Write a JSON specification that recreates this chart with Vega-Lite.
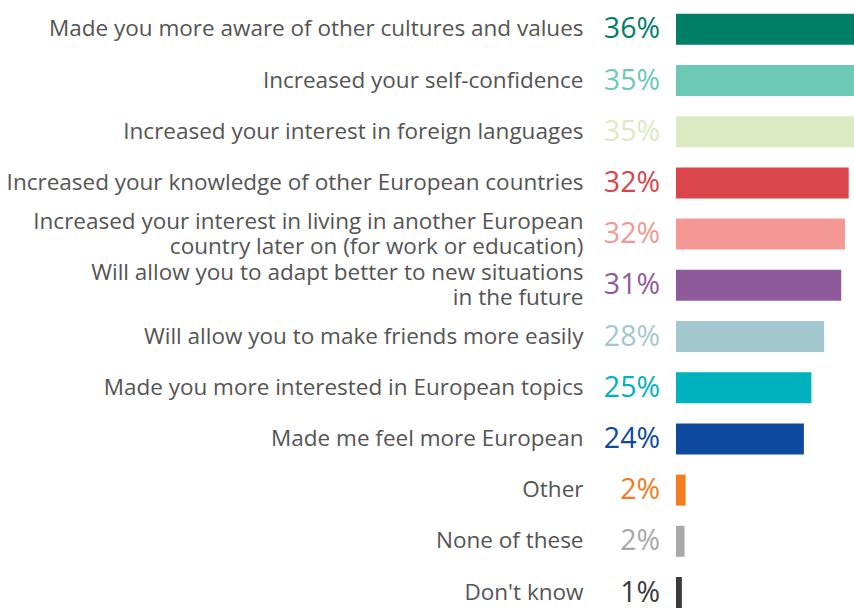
{
  "$schema": "https://vega.github.io/schema/vega-lite/v6.json",
  "width": 178,
  "height": 608,
  "autosize": {"type": "none"},
  "padding": {"left": 676, "top": 0, "right": 0, "bottom": 0},
  "background": "white",
  "config": {"view": {"stroke": null}, "font": "Open Sans"},
  "data": {
    "values": [
      {"label": "Made you more aware of other cultures and values", "value": 36, "pct": "36%"},
      {"label": "Increased your self-confidence", "value": 35, "pct": "35%"},
      {"label": "Increased your interest in foreign languages", "value": 35, "pct": "35%"},
      {"label": "Increased your knowledge of other European countries", "value": 32.4, "pct": "32%"},
      {"label": "Increased your interest in living in another European|country later on (for work or education)", "value": 31.7, "pct": "32%"},
      {"label": "Will allow you to adapt better to new situations|in the future", "value": 31, "pct": "31%"},
      {"label": "Will allow you to make friends more easily", "value": 27.8, "pct": "28%"},
      {"label": "Made you more interested in European topics", "value": 25.4, "pct": "25%"},
      {"label": "Made me feel more European", "value": 24, "pct": "24%"},
      {"label": "Other", "value": 1.8, "pct": "2%"},
      {"label": "None of these", "value": 1.6, "pct": "2%"},
      {"label": "Don't know", "value": 1.1, "pct": "1%"}
    ]
  },
  "encoding": {
    "y": {
      "field": "label",
      "type": "nominal",
      "sort": null,
      "scale": {"paddingInner": 0.395, "paddingOuter": 0.135, "align": 1},
      "axis": {
        "title": null,
        "domain": false,
        "ticks": false,
        "labelPadding": 93,
        "labelFontSize": 22.5,
        "labelColor": "#545454",
        "labelExpr": "split(datum.label, '|')",
        "labelLineHeight": 25,
        "labelLimit": 800,
        "labelAlign": "right",
        "labelBaseline": "middle",
        "labelOffset": {"condition": {"test": "indexof(datum.value, '|') >= 0", "value": -12.5}, "value": 0}
      }
    },
    "color": {
      "field": "label",
      "type": "nominal",
      "legend": null,
      "scale": {
        "domain": [
          "Made you more aware of other cultures and values",
          "Increased your self-confidence",
          "Increased your interest in foreign languages",
          "Increased your knowledge of other European countries",
          "Increased your interest in living in another European|country later on (for work or education)",
          "Will allow you to adapt better to new situations|in the future",
          "Will allow you to make friends more easily",
          "Made you more interested in European topics",
          "Made me feel more European",
          "Other",
          "None of these",
          "Don't know"
        ],
        "range": ["#007E66", "#6CC9B5", "#DCEAC4", "#DA444B", "#F39894", "#8F5A9C", "#A4C8D0", "#00B1BE", "#0D4A9E", "#F47B20", "#A8A8A8", "#3A3A3A"]
      }
    }
  },
  "layer": [
    {
      "mark": {"type": "bar", "clip": true},
      "encoding": {
        "x": {
          "field": "value",
          "type": "quantitative",
          "scale": {"domain": [0, 33.4], "nice": false, "zero": true},
          "axis": null
        }
      }
    },
    {
      "mark": {"type": "text", "align": "right", "baseline": "middle", "dx": -16, "fontSize": 28.5},
      "encoding": {
        "x": {"datum": 0, "type": "quantitative"},
        "text": {"field": "pct", "type": "nominal"}
      }
    }
  ]
}
